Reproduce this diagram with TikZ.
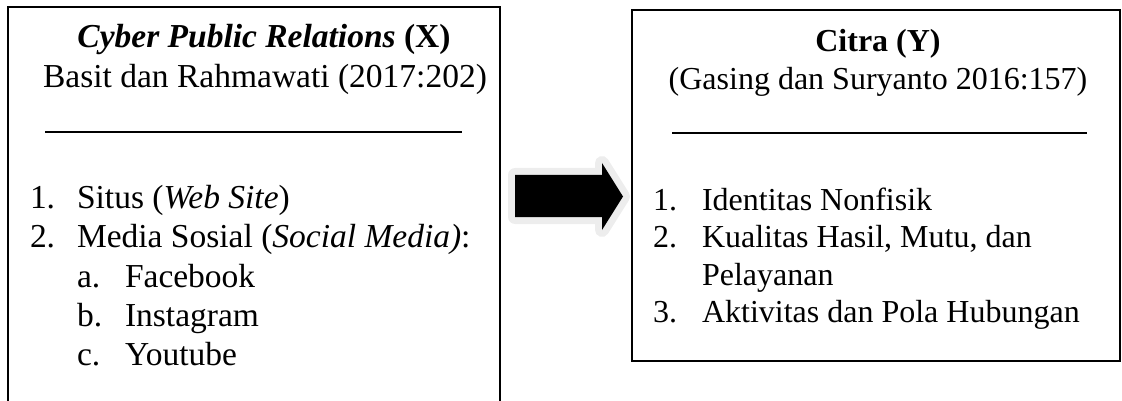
\documentclass[tikz,border=0pt]{standalone}
\usepackage{fontspec}
\setmainfont{Liberation Serif}
\begin{document}
\begin{tikzpicture}[x=1pt,y=-1pt,
  txt/.style={inner sep=0pt,outer sep=0pt,font=\fontsize{33.5pt}{39pt}\selectfont},
  txtr/.style={inner sep=0pt,outer sep=0pt,font=\fontsize{32pt}{37.5pt}\selectfont},
  lft/.style={txt,anchor=base west},
  ctr/.style={txt,anchor=base},
  lftr/.style={txtr,anchor=base west},
  ctrr/.style={txtr,anchor=base},
  boxline/.style={line width=1.8pt,draw=black},
  rule/.style={line width=1.4pt,draw=black}]
\useasboundingbox (0,0) rectangle (1122,401);
% left box (bottom cut off)
\draw[boxline] (8,405) -- (8,7) -- (500,7) -- (500,405);
\node[ctr] (xt) at (264,48) {\textbf{\textit{Cyber Public Relations}} \textbf{(X)}};
\node[ctr] (xs) at (265,88) {Basit dan Rahmawati (2017:202)};
\coordinate (xr1) at (45,132);
\coordinate (xr2) at (462,132);
\draw[rule] (xr1) -- (xr2);
\node[lft] (x1n) at (30,208) {1.};
\node[lft] (x1) at (77,208) {Situs (\textit{Web Site})};
\node[lft] (x2n) at (30,247) {2.};
\node[lft] (x2) at (77,247) {Media Sosial (\textit{Social Media)}:};
\node[lft] (xan) at (77,287) {a.};
\node[lft] (xa) at (125,287) {Facebook};
\node[lft] (xbn) at (77,326) {b.};
\node[lft] (xb) at (125,326) {Instagram};
\node[lft] (xcn) at (77,365) {c.};
\node[lft] (xc) at (125,365) {Youtube};
% right box
\draw[boxline] (632,10) rectangle (1120,361);
\node[ctrr] (yt) at (878,52) {\textbf{Citra (Y)}};
\node[ctrr] (ys) at (878,90) {(Gasing dan Suryanto 2016:157)};
\coordinate (yr1) at (672,133);
\coordinate (yr2) at (1087,133);
\draw[rule] (yr1) -- (yr2);
\node[lftr] (y1n) at (653,210) {1.};
\node[lftr] (y1) at (702,210) {Identitas Nonfisik};
\node[lftr] (y2n) at (653,247.5) {2.};
\node[lftr] (y2) at (702,247.5) {Kualitas Hasil, Mutu, dan};
\node[lftr] (y2b) at (702,285) {Pelayanan};
\node[lftr] (y3n) at (653,322.5) {3.};
\node[lftr] (y3) at (702,322.5) {Aktivitas dan Pola Hubungan};
% block arrow with light halo
\def\arrowpath{(515,175) -- (602,175) -- (602,163) -- (623,196.5) -- (602,230) -- (602,217) -- (515,217) -- cycle}
\draw[draw=black!7,line width=14pt,line join=round] \arrowpath;
\fill[black] \arrowpath;
\end{tikzpicture}
\end{document}
